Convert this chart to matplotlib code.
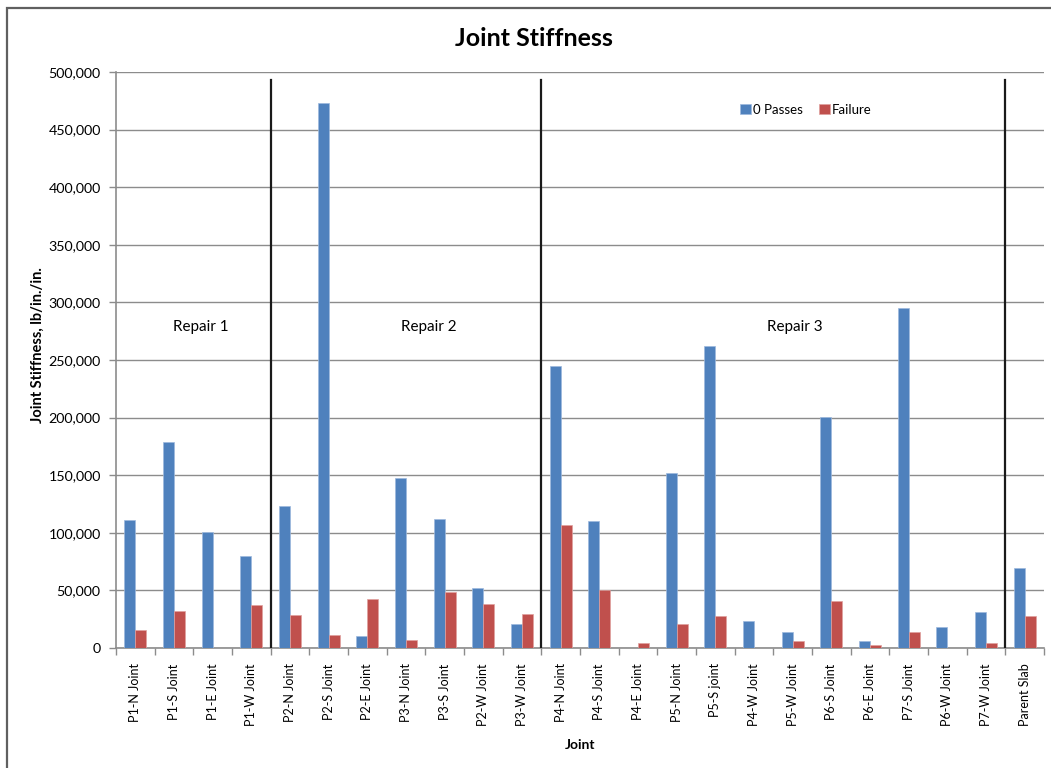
import matplotlib
matplotlib.use("Agg")
import matplotlib.pyplot as plt
from matplotlib.patches import Rectangle
import numpy as np

plt.rcParams['font.family'] = ['Lato', 'DejaVu Sans']

categories = [
    "P1-N Joint", "P1-S Joint", "P1-E Joint", "P1-W Joint",
    "P2-N Joint", "P2-S Joint", "P2-E Joint", "P3-N Joint",
    "P3-S Joint", "P2-W Joint", "P3-W Joint",
    "P4-N Joint", "P4-S Joint", "P4-E Joint", "P5-N Joint",
    "P5-S joint", "P4-W Joint", "P5-W Joint", "P6-S Joint",
    "P6-E Joint", "P7-S Joint", "P6-W Joint", "P7-W Joint",
    "Parent Slab",
]
zero_passes = [
    111000, 178500, 101000, 80000,
    123000, 473000, 10500, 147500,
    112000, 52500, 20500,
    245000, 110000, 0, 152000,
    262500, 23800, 13500, 200500,
    6500, 295500, 18500, 31500,
    69500,
]
failure = [
    15500, 32500, 0, 37500,
    28500, 11500, 42500, 7300,
    48500, 38500, 29500,
    107000, 50500, 4500, 20500,
    27500, 0, 6500, 41000,
    2500, 13500, 0, 4500,
    27500,
]
group_labels = ["Repair 1", "Repair 2", "Repair 3"]
group_label_x = [1.7, 7.6, 17.05]
separator_x = [3.5, 10.5, 22.5]

blue = "#4F81BD"
red = "#C0504D"
grid_gray = "#8C8C8C"

W, H = 1051, 768
fig = plt.figure(figsize=(W / 100, H / 100), dpi=100)

# outer chart frame
fig.patches.append(Rectangle((7 / W, -0.05), 1.1, 1 - 8 / H + 0.05,
                             transform=fig.transFigure, fill=False,
                             edgecolor="#606060", linewidth=1.6))

ax = fig.add_axes([116 / W, 1 - 648 / H, (1044 - 116) / W, (648 - 72) / H])

x = np.arange(len(categories))
bw = 0.284
ax.bar(x - bw / 2, zero_passes, bw, color=blue, edgecolor="#9DB9DD",
       linewidth=0.5, label="0 Passes", zorder=3)
ax.bar(x + bw / 2, failure, bw, color=red, edgecolor="#E0A09E",
       linewidth=0.5, label="Failure", zorder=3)

ax.set_xlim(-0.5, len(categories) - 0.5)
ax.set_ylim(0, 500000)
ax.set_yticks(np.arange(0, 500001, 50000))
ax.set_yticklabels([f"{v:,}" for v in range(0, 500001, 50000)])
ax.yaxis.grid(True, color=grid_gray, linewidth=1.0, zorder=0)
ax.set_axisbelow(True)

ax.set_xticks(x)
ax.set_xticklabels(categories, rotation=90, fontsize=9)
ax.set_xticks(np.arange(-0.5, len(categories)), minor=True)
ax.tick_params(axis='x', which='major', length=0, pad=11)
ax.tick_params(axis='x', which='minor', length=5, color=grid_gray, width=1)
ax.tick_params(axis='y', length=5, color=grid_gray, width=1, labelsize=10.3, pad=6)

for side in ("top", "right"):
    ax.spines[side].set_visible(False)
for side in ("left", "bottom"):
    ax.spines[side].set_color(grid_gray)
    ax.spines[side].set_linewidth(1.2)

for sx in separator_x:
    ax.axvline(sx, ymin=0, ymax=(648 - 80) / 576, color="#1A1A1A",
               linewidth=1.6, zorder=4)

for lbl, gx in zip(group_labels, group_label_x):
    ax.text(gx, 278600, lbl, ha="center", va="center", fontsize=11)

fig.text(534 / W, 1 - 38 / H, "Joint Stiffness", ha="center", va="center",
         fontsize=18, fontweight="bold")
fig.text(38 / W, 1 - 345 / H, "Joint Stiffness, lb/in./in.", ha="center",
         va="center", rotation=90, fontsize=10.5, fontweight="bold")
fig.text(580 / W, 1 - 745 / H, "Joint", ha="center", va="center",
         fontsize=10, fontweight="bold")

fig.legend(loc="center", bbox_to_anchor=(806 / W, 1 - 110 / H), ncol=2,
           frameon=False, fontsize=9.5, handlelength=0.8, handleheight=0.8,
           handletextpad=0.2, columnspacing=1.2, borderpad=0)

fig.savefig("out.png", dpi=100)
